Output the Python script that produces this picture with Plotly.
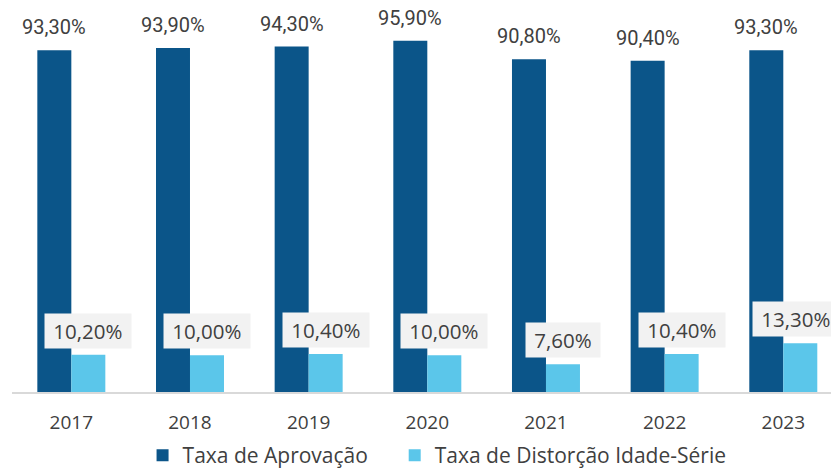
import plotly.graph_objects as go

years = ["2017", "2018", "2019", "2020", "2021", "2022", "2023"]
aprovacao = [93.3, 93.9, 94.3, 95.9, 90.8, 90.4, 93.3]
distorcao = [10.2, 10.0, 10.4, 10.0, 7.6, 10.4, 13.3]
series_names = ["Taxa de Aprovação", "Taxa de Distorção Idade-Série"]

dark = "#0b5589"
light = "#5bc6ea"
txt = "#404040"
nb = "\u00a0"

def fmt(v):
    return f"{v:.2f}".replace(".", ",") + "%"

fig = go.Figure()
fig.add_bar(x=years, y=aprovacao, name=series_names[0] + nb * 4, marker_color=dark,
            marker_line_width=0)
fig.add_bar(x=years, y=distorcao, name=series_names[1], marker_color=light,
            marker_line_width=0)

for i, v in enumerate(aprovacao):
    fig.add_annotation(x=i, y=v, xref="x", yref="y", text=fmt(v), showarrow=False,
                       xshift=-17, yanchor="bottom", yshift=9,
                       font=dict(family="Roboto", size=20, color=txt))
n = len(distorcao)
for i, v in enumerate(distorcao):
    last = i == n - 1
    fig.add_annotation(x=i, y=v, xref="x", yref="y",
                       text=(nb + fmt(v)) if last else (nb + fmt(v) + nb),
                       showarrow=False, xshift=10 if last else 17,
                       yanchor="bottom", yshift=6,
                       bgcolor="#f2f2f2", borderpad=3,
                       font=dict(family="Open Sans", size=20.5, color=txt))

fig.update_layout(
    width=831, height=470,
    margin=dict(l=12, r=0, t=0, b=78, autoexpand=False),
    paper_bgcolor="white", plot_bgcolor="white",
    barmode="group", bargap=0.427, bargroupgap=0,
    font=dict(family="Open Sans", color=txt),
    legend=dict(orientation="h", x=0.519, xanchor="center", y=-0.162, yanchor="middle",
                font=dict(family="Open Sans", size=21, color=txt),
                itemwidth=30, traceorder="normal"),
    xaxis=dict(type="category", range=[-0.5, 6.402], showline=True, linecolor="#d9d9d9",
               linewidth=2, showgrid=False, ticks="", ticklabelstandoff=12,
               tickfont=dict(family="Open Sans", size=19, color=txt)),
    yaxis=dict(range=[0, 107], visible=False),
)

fig.write_html("out.html")
